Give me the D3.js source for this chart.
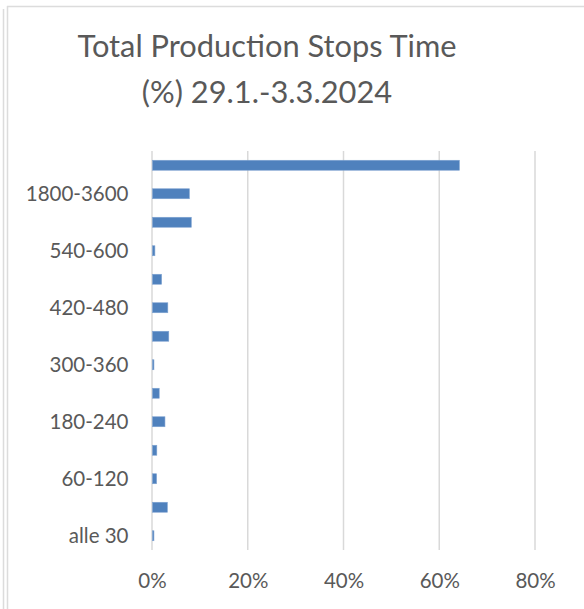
<!DOCTYPE html>
<html>
<head>
<meta charset="utf-8">
<script src="https://cdn.jsdelivr.net/npm/d3@7"></script>
<style>
  html, body { margin: 0; padding: 0; background: #ffffff; }
  svg { display: block; }
  text { font-family: Lato, "Liberation Sans", sans-serif; fill: #595959; }
</style>
</head>
<body>
<svg id="chart" width="584" height="609"></svg>
<script>
// Stop-duration classes (seconds), bottom to top
const categories = [
  "alle 30", "30-60", "60-120", "120-180", "180-240", "240-300", "300-360",
  "360-420", "420-480", "480-540", "540-600", "600-1800", "1800-3600", "> 3600"
];
// Share of total stop time (%) for each class
const shares = [0.3, 3.1, 0.85, 0.9, 2.6, 1.4, 0.3, 3.4, 3.2, 1.9, 0.5, 8.1, 7.7, 64.1];
// Class labels printed on the axis (every second class fits)
const shownLabels = ["alle 30", "60-120", "180-240", "300-360", "420-480", "540-600", "1800-3600"];
const xTicks = [0, 20, 40, 60, 80];
const titleLines = ["Total Production Stops Time", "(%) 29.1.-3.3.2024"];

const data = categories.map((c, i) => ({ cat: c, value: shares[i] }));

const svg = d3.select("#chart");

// Outer frame lines
const frame = svg.append("g").attr("stroke", "#dcdcdc").attr("stroke-width", 1.5).attr("fill", "none");
frame.append("line").attr("x1", 3.5).attr("x2", 3.5).attr("y1", 9).attr("y2", 609);
frame.append("line").attr("x1", 7.5).attr("x2", 7.5).attr("y1", 6).attr("y2", 609);
frame.append("line").attr("x1", 7).attr("x2", 584).attr("y1", 6.5).attr("y2", 6.5);

// Title
const title = svg.append("text")
  .attr("text-anchor", "middle")
  .attr("font-size", 30.8);
title.selectAll("tspan").data(titleLines).join("tspan")
  .attr("x", 267)
  .attr("y", (d, i) => 56.5 + i * 46.5)
  .text(d => d);

const x = d3.scaleLinear().domain([0, 80]).range([152, 535]);
const y = d3.scaleBand()
  .domain(categories.slice().reverse())
  .range([151, 550])
  .paddingInner(0.65)
  .paddingOuter(0.325);

// Vertical gridlines
svg.append("g")
  .selectAll("line").data(xTicks).join("line")
  .attr("x1", d => x(d)).attr("x2", d => x(d))
  .attr("y1", 151).attr("y2", 550)
  .attr("stroke", "#d9d9d9").attr("stroke-width", 1.5);

// Bars
svg.append("g")
  .selectAll("rect").data(data).join("rect")
  .attr("x", x(0) + 0.5)
  .attr("y", d => y(d.cat))
  .attr("width", d => Math.max(0.8, x(d.value) - x(0)))
  .attr("height", y.bandwidth())
  .attr("fill", "#4f81bd")
  .attr("stroke", "#7fa3d1")
  .attr("stroke-width", 0.6);

// Category axis
const yAxis = d3.axisLeft(y).tickSize(0).tickPadding(0)
  .tickValues(shownLabels);
const gy = svg.append("g").attr("transform", "translate(128.5,1)").call(yAxis);
gy.select(".domain").remove();
gy.selectAll("text")
  .attr("font-size", 20.5)
  .attr("font-family", "Lato, 'Liberation Sans', sans-serif")
  .attr("fill", "#595959");

// Percentage axis
const xAxis = d3.axisBottom(x).tickValues(xTicks).tickSize(0).tickPadding(0)
  .tickFormat(d => d + "%");
const gx = svg.append("g").attr("transform", "translate(0,573.5)").call(xAxis);
gx.select(".domain").remove();
gx.selectAll("text")
  .attr("font-size", 20.5)
  .attr("font-family", "Lato, 'Liberation Sans', sans-serif")
  .attr("fill", "#595959");
</script>
</body>
</html>
